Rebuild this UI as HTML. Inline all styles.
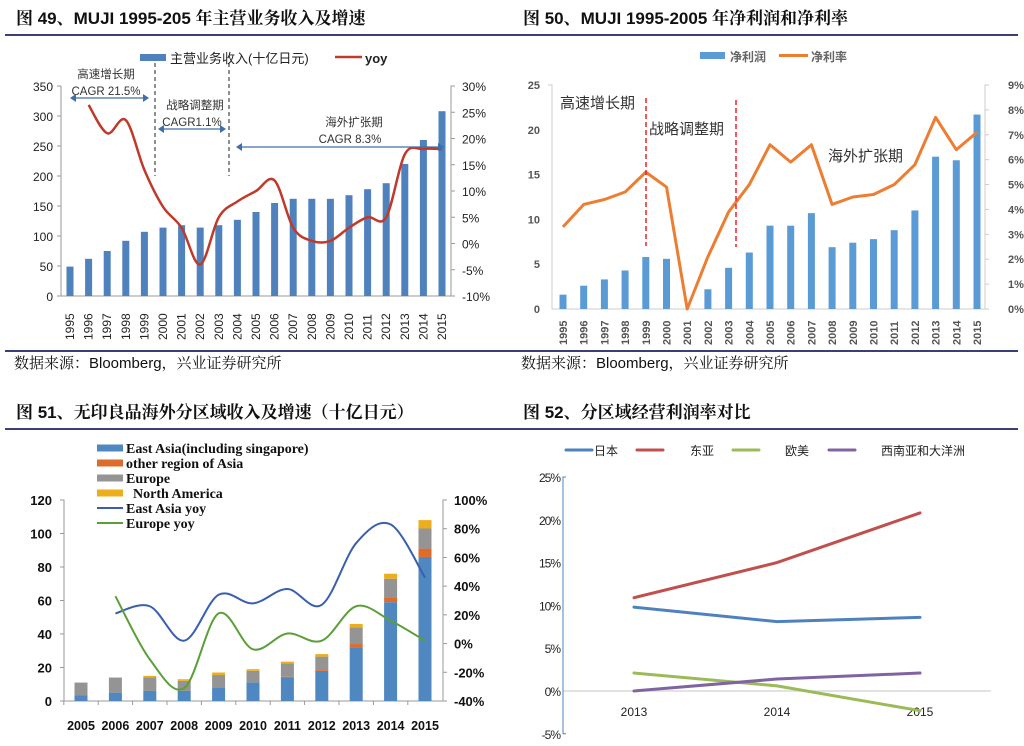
<!DOCTYPE html>
<html><head><meta charset="utf-8">
<style>
body{margin:0;background:#fff;width:1024px;height:746px;overflow:hidden}
svg{display:block}
text{font-family:"Liberation Sans","Noto Sans CJK SC",sans-serif}
.ttl{font-family:"Liberation Sans","Noto Serif CJK SC",serif;font-size:17px;font-weight:bold;fill:#111}
.src{font-family:"Liberation Sans","Noto Serif CJK SC",serif;font-size:15px;fill:#111}
.tk{font-size:12px;fill:#222}
.serif{font-family:"Liberation Serif","Noto Serif CJK SC",serif}
</style></head><body>
<svg id="root" width="1024" height="746">
<g>
<text class="ttl" x="16" y="24">图 49、MUJI 1995-205 年主营业务收入及增速</text>
<line x1="5" y1="35" x2="512" y2="35" stroke="#3b3f78" stroke-width="2"/>
<line x1="5" y1="351" x2="512" y2="351" stroke="#3b3f78" stroke-width="2"/>
<text class="src" x="14" y="368">数据来源：Bloomberg，兴业证券研究所</text>
</g>
<g>
<text class="ttl" x="523" y="24">图 50、MUJI 1995-2005 年净利润和净利率</text>
<line x1="512" y1="35" x2="1018" y2="35" stroke="#3b3f78" stroke-width="2"/>
<line x1="512" y1="351" x2="1018" y2="351" stroke="#3b3f78" stroke-width="2"/>
<text class="src" x="521" y="368">数据来源：Bloomberg，兴业证券研究所</text>
</g>
<g>
<text class="ttl" x="16" y="418">图 51、无印良品海外分区域收入及增速（十亿日元）</text>
<line x1="5" y1="429" x2="512" y2="429" stroke="#3b3f78" stroke-width="2"/>
</g>
<g>
<text class="ttl" x="523" y="418">图 52、分区域经营利润率对比</text>
<line x1="512" y1="429" x2="1018" y2="429" stroke="#3b3f78" stroke-width="2"/>
</g>
</svg>
<script>
// ---- Fig 49 data ----
const c1Years=["1995","1996","1997","1998","1999","2000","2001","2002","2003","2004","2005","2006","2007","2008","2009","2010","2011","2012","2013","2014","2015"];
const c1Revenue=[49,62,75,92,107,114,118,114,118,127,140,155,162,162,162,168,178,188,220,260,308];
const c1Yoy=[null,26.4,21,23.5,14,7,3,-4,5,8,10,12,3,0.5,0.5,3,5,5,17,18,18];
const c1LeftTicks=[0,50,100,150,200,250,300,350];
const c1RightTicks=[-10,-5,0,5,10,15,20,25,30];
// ---- Fig 50 data ----
const c2Years=["1995","1996","1997","1998","1999","2000","2001","2002","2003","2004","2005","2006","2007","2008","2009","2010","2011","2012","2013","2014","2015"];
const c2Profit=[1.6,2.6,3.3,4.3,5.8,5.6,0,2.2,4.6,6.3,9.3,9.3,10.7,6.9,7.4,7.8,8.8,11,17,16.6,21.7];
const c2Margin=[3.3,4.2,4.4,4.7,5.5,4.9,0,2.1,3.9,5,6.6,5.9,6.6,4.2,4.5,4.6,5,5.8,7.7,6.4,7.1];
const c2LeftTicks=[0,5,10,15,20,25];
const c2RightTicks=[0,1,2,3,4,5,6,7,8,9];
// ---- Fig 51 data ----
const c3Years=["2005","2006","2007","2008","2009","2010","2011","2012","2013","2014","2015"];
const c3EastAsia=[3.5,5,6,6,8,11,14,18,32,59,86];
const c3OtherAsia=[0,0,0,0,0,0,0.5,0.5,2,2.5,5];
const c3Europe=[7.5,9,8,6,7.5,7,8,8,10,11.5,12];
const c3NorthAm=[0,0,1,1,1.5,1,1,1.5,2,3,5];
const c3EastAsiaYoy=[null,21,26,2,34,28,38,27,70,83,46];
const c3EuropeYoy=[null,33,-11,-31,21,-4,7,2,26,16,2];
const c3LeftTicks=[0,20,40,60,80,100,120];
const c3RightTicks=[-40,-20,0,20,40,60,80,100];
// ---- Fig 52 data ----
const c4Years=["2013","2014","2015"];
const c4Japan=[9.8,8.1,8.6];
const c4EastAsia=[10.9,15,20.8];
const c4EuroAm=[2.1,0.6,-2.3];
const c4SWAsia=[0,1.4,2.1];
const c4Ticks=[-5,0,5,10,15,20,25];

const NS="http://www.w3.org/2000/svg";
const root=document.getElementById('root');
function mk(tag,a,parent,txt){const e=document.createElementNS(NS,tag);for(const k in a)e.setAttribute(k,a[k]);if(txt!==undefined)e.textContent=txt;(parent||root).appendChild(e);return e;}
function smooth(pts){let d="M"+pts[0][0]+","+pts[0][1];for(let i=0;i<pts.length-1;i++){const p0=pts[i-1]||pts[i],p1=pts[i],p2=pts[i+1],p3=pts[i+2]||p2;const c1x=p1[0]+(p2[0]-p0[0])/6,c1y=p1[1]+(p2[1]-p0[1])/6,c2x=p2[0]-(p3[0]-p1[0])/6,c2y=p2[1]-(p3[1]-p1[1])/6;d+=` C${c1x},${c1y} ${c2x},${c2y} ${p2[0]},${p2[1]}`;}return d;}
function poly(pts){return "M"+pts.map(p=>p[0]+","+p[1]).join(" L");}
function arrow(g,x1,x2,y,name){
 const l=mk('line',{x1:x1+4,x2:x2-4,y1:y,y2:y,stroke:'#3d6fa8','stroke-width':1.2},g);
 
 const a=mk('path',{d:`M${x1},${y} l6,-4 v8z M${x2},${y} l-6,-4 v8z`,fill:'#3d6fa8'},g);
 
}

// ===== Chart 1 =====
(function(){
 const g=mk('g',{});
 const L=61,R=451,B=296,T=86;
 const x0=70,step=(442-70)/20;
 const X=i=>x0+i*step, Y=v=>B-(v/350)*(B-T), Y2=v=>B-((v+10)/40)*(B-T);
 let ax=mk('path',{d:`M${L},${T} H${L-4} M${L},${T} V${B} H${R} V${T} H${R+4}`,fill:'none',stroke:'#999'},g);
 
 c1LeftTicks.forEach(v=>{const t=mk('text',{x:L-8,y:Y(v)+5,'text-anchor':'end',class:'tk','font-size':13},g,String(v));
  const m=mk('line',{x1:L-4,x2:L,y1:Y(v),y2:Y(v),stroke:'#999'},g);});
 c1RightTicks.forEach(v=>{const t=mk('text',{x:R+11,y:Y2(v)+5,class:'tk','font-size':13},g,v+'%');
  const m=mk('line',{x1:R,x2:R+4,y1:Y2(v),y2:Y2(v),stroke:'#999'},g);});
 c1Years.forEach((yr,i)=>{
  const b=mk('rect',{x:X(i)-3.5,y:Y(c1Revenue[i]),width:7,height:B-Y(c1Revenue[i]),fill:'#4f81bd'},g);
  
  const t=mk('text',{x:0,y:0,transform:`translate(${X(i)+4},340) rotate(-90)`,class:'tk','font-size':11.5},g,yr);
  
 });
 const pts=[];c1Yoy.forEach((v,i)=>{if(v!==null)pts.push([X(i),Y2(v)]);});
 const ln=mk('path',{d:smooth(pts),fill:'none',stroke:'#c0392b','stroke-width':2.5},g);
 
 const lr=mk('rect',{x:140,y:54,width:26,height:7,fill:'#4f81bd'},g);
 const lt=mk('text',{x:170,y:63,'font-size':13,fill:'#222'},g,'主营业务收入(十亿日元)');
 const ll=mk('line',{x1:335,x2:362,y1:57,y2:57,stroke:'#c0392b','stroke-width':2.5},g);
 const lt2=mk('text',{x:365,y:63,'font-size':13,'font-weight':'bold',fill:'#222'},g,'yoy');
 const d1=mk('line',{x1:155,x2:155,y1:63,y2:176,stroke:'#222','stroke-dasharray':'4,3'},g);
 const d2=mk('line',{x1:229,x2:229,y1:63,y2:176,stroke:'#222','stroke-dasharray':'4,3'},g);
 [[106,78,'高速增长期'],[106,95,'CAGR 21.5%'],[195,109,'战略调整期'],[192,126,'CAGR1.1%'],[354,126,'海外扩张期'],[350,143,'CAGR 8.3%']].forEach(a=>{
  const t=mk('text',{x:a[0],y:a[1],'text-anchor':'middle','font-size':11.5,fill:'#333'},g,a[2]);});
 arrow(g,70,149,98,'fig49-arrow-growth');arrow(g,158,226,129,'fig49-arrow-adjust');arrow(g,236,444,147,'fig49-arrow-overseas');
})();

// ===== Chart 2 =====
(function(){
 const g=mk('g',{});
 const L=552,R=985,B=309,T=85;
 const x0=563,step=(977-563)/20;
 const X=i=>x0+i*step, Y=v=>B-(v/25)*(B-T), Y2=v=>B-(v/9)*(B-T);
 const ax=mk('path',{d:`M${L-4},${T} H${L} V${B} H${R} V${T} H${R+4}`,fill:'none',stroke:'#ccc'},g);
 
 c2LeftTicks.forEach(v=>{const t=mk('text',{x:L-12,y:Y(v)+4,'text-anchor':'end','font-size':11,fill:'#555','font-weight':'bold'},g,String(v));});
 c2RightTicks.forEach(v=>{const t=mk('text',{x:R+23,y:Y2(v)+4,'font-size':11,fill:'#555','font-weight':'bold'},g,v+'%');
  const m=mk('line',{x1:R,x2:R+4,y1:Y2(v),y2:Y2(v),stroke:'#ccc'},g);});
 c2Years.forEach((yr,i)=>{
  const b=mk('rect',{x:X(i)-3.5,y:Y(c2Profit[i]),width:7,height:B-Y(c2Profit[i]),fill:'#5b9bd5'},g);
  
  const t=mk('text',{x:0,y:0,transform:`translate(${X(i)+4},345) rotate(-90)`,'font-size':11,'font-weight':'bold',fill:'#555'},g,yr);
  
 });
 const ln=mk('path',{d:poly(c2Margin.map((v,i)=>[X(i),Y2(v)])),fill:'none',stroke:'#ed7d31','stroke-width':3,'stroke-linejoin':'round'},g);
 
 const d1=mk('line',{x1:646,x2:646,y1:98,y2:246,stroke:'#e8212a','stroke-width':1.5,'stroke-dasharray':'5,3'},g);
 const d2=mk('line',{x1:736,x2:736,y1:100,y2:247,stroke:'#e8212a','stroke-width':1.5,'stroke-dasharray':'5,3'},g);
 [[560,108,'高速增长期'],[649,134,'战略调整期'],[828,161,'海外扩张期']].forEach(a=>{
  const t=mk('text',{x:a[0],y:a[1],'font-size':15,fill:'#333'},g,a[2]);});
 const lr=mk('rect',{x:700,y:52,width:25,height:7,fill:'#5b9bd5'},g);
 const lt=mk('text',{x:730,y:61,'font-size':12,'font-weight':'bold',fill:'#666'},g,'净利润');
 const ll=mk('line',{x1:779,x2:808,y1:55.5,y2:55.5,stroke:'#ed7d31','stroke-width':3},g);
 const lt2=mk('text',{x:811,y:61,'font-size':12,'font-weight':'bold',fill:'#666'},g,'净利率');
})();

// ===== Chart 3 =====
(function(){
 const g=mk('g',{});
 const L=64,R=443,B=701,T=500;
 const x0=81,step=(425-81)/10;
 const X=i=>x0+i*step, Y=v=>B-(v/120)*(B-T), Y2=v=>B-((v+40)/140)*(B-T);
 const ax=mk('path',{d:`M${L-4},${T} H${L} V${B} H${R} V${T} H${R+4}`,fill:'none',stroke:'#999'},g);
 
 c3LeftTicks.forEach(v=>{const t=mk('text',{x:L-12,y:Y(v)+5,'text-anchor':'end','font-size':13,'font-weight':'bold',fill:'#111'},g,String(v));
  const m=mk('line',{x1:L-4,x2:L,y1:Y(v),y2:Y(v),stroke:'#999'},g);});
 c3RightTicks.forEach(v=>{const t=mk('text',{x:R+11,y:Y2(v)+5,'font-size':13,'font-weight':'bold',fill:'#111'},g,v+'%');
  const m=mk('line',{x1:R,x2:R+4,y1:Y2(v),y2:Y2(v),stroke:'#999'},g);});
 const series=[[c3EastAsia,'#4f87c0','east-asia'],[c3OtherAsia,'#dd6b2b','other-asia'],[c3Europe,'#949494','europe'],[c3NorthAm,'#ecae1c','north-america']];
 c3Years.forEach((yr,i)=>{
  let acc=0;
  series.forEach(s=>{const v=s[0][i];if(v>0){const r=mk('rect',{x:X(i)-6.5,y:Y(acc+v),width:13,height:Y(acc)-Y(acc+v),fill:s[1]},g);
   }acc+=v;});
  const t=mk('text',{x:X(i),y:730,'text-anchor':'middle','font-size':12.5,'font-weight':'bold',fill:'#111'},g,yr);
  
  const m=mk('line',{x1:X(i)-step/2,x2:X(i)-step/2,y1:B,y2:B+4,stroke:'#999'},g);
 });
 const p1=[];c3EastAsiaYoy.forEach((v,i)=>{if(v!==null)p1.push([X(i),Y2(v)]);});
 const l1=mk('path',{d:smooth(p1),fill:'none',stroke:'#3a5fae','stroke-width':2},g);
 const p2=[];c3EuropeYoy.forEach((v,i)=>{if(v!==null)p2.push([X(i),Y2(v)]);});
 const l2=mk('path',{d:smooth(p2),fill:'none',stroke:'#5c9e3a','stroke-width':2},g);
 const leg=[['rect','#4f87c0','East Asia(including singapore)'],['rect','#dd6b2b','other region of Asia'],['rect','#949494','Europe'],['rect','#ecae1c','\u00a0\u00a0North America'],['line','#3a5fae','East Asia yoy'],['line','#5c9e3a','Europe yoy']];
 leg.forEach((e,k)=>{const y=448+k*15;
  const s=e[0]==='rect'?mk('rect',{x:97,y:y-3.5,width:26,height:7,fill:e[1]},g):mk('line',{x1:97,x2:123,y1:y,y2:y,stroke:e[1],'stroke-width':2},g);
  
  const t=mk('text',{x:126,y:y+5,'font-size':14,'font-weight':'bold',fill:'#111',class:'serif'},g,e[2]);
  });
})();

// ===== Chart 4 =====
(function(){
 const g=mk('g',{});
 const L=563,R=991,Z=691,per=42.8;
 const xs=[634,777,920];
 const X=i=>xs[0]+i*(xs[1]-xs[0]), Y=v=>Z-v/5*per;
 const zl=mk('line',{x1:L,x2:R,y1:Z,y2:Z,stroke:'#d9d9d9','stroke-width':1.5},g);
 const ax=mk('path',{d:`M${L+3},${Y(25)} H${L} V${Y(-5)} H${L+3}`,fill:'none',stroke:'#4f81bd'},g);
 c4Ticks.forEach(v=>{const t=mk('text',{x:L-3,y:Y(v)+5,'text-anchor':'end','font-size':12,fill:'#222','letter-spacing':'-1'},g,v+'%');});
 c4Years.forEach((yr,i)=>{const t=mk('text',{x:X(i),y:716,'text-anchor':'middle','font-size':12,fill:'#222'},g,yr);});
 const ser=[[c4Japan,'#4f81bd','japan'],[c4EastAsia,'#c0504d','east-asia'],[c4EuroAm,'#9bbb59','europe-america'],[c4SWAsia,'#8064a2','sw-asia-oceania']];
 ser.forEach(s=>{const l=mk('path',{d:poly(s[0].map((v,i)=>[X(i),Y(v)])),fill:'none',stroke:s[1],'stroke-width':3,'stroke-linecap':'round'},g);
  });
 const leg=[[566,594,'#4f81bd','日本'],[637,690,'#c0504d','东亚'],[733,785,'#9bbb59','欧美'],[829,881,'#8064a2','西南亚和大洋洲']];
 leg.forEach(e=>{const s=mk('line',{x1:e[0],x2:e[0]+26,y1:450,y2:450,stroke:e[2],'stroke-width':3,'stroke-linecap':'round'},g);
  
  const t=mk('text',{x:e[1],y:455,'font-size':12,fill:'#222'},g,e[3]);});
})();
</script>
</body></html>
